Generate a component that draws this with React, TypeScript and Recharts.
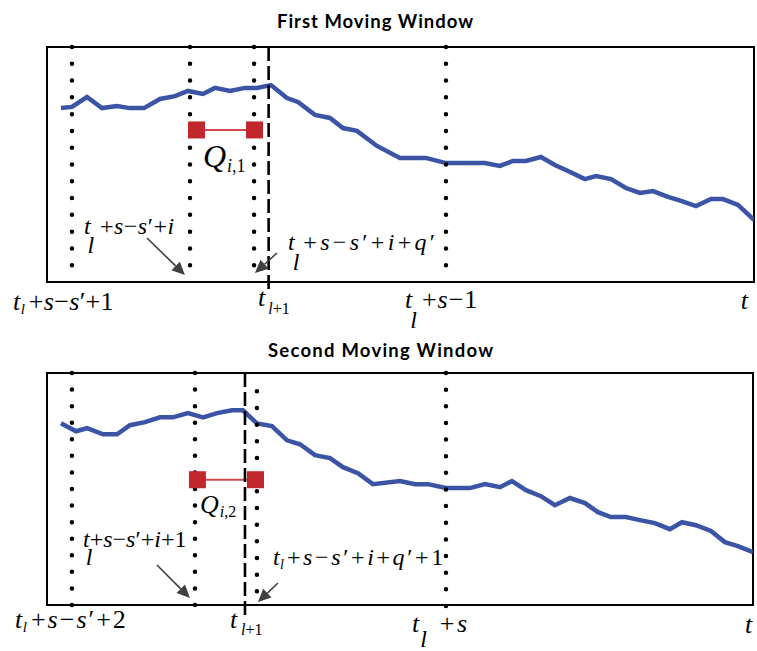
import React from "react"
import { ComposedChart, Line, XAxis, YAxis, ReferenceLine, ReferenceArea, ReferenceDot } from "recharts"

// first moving window: time index and level of the series
const firstTime = [0.97, 1.73, 2.77, 3.81, 4.85, 5.75, 6.72, 7.83, 8.87, 9.77, 10.81, 11.64, 12.68, 13.72, 14.55, 15.52, 16.63, 17.39, 18.57, 19.61, 20.51, 21.48, 22.87, 24.46, 26.26, 27.65, 30.35, 31.39, 32.29, 33.19, 34.23, 35.2, 36.11, 37.28, 38.05, 39.09, 40.12, 41.1, 42.0, 43.04, 43.94, 44.98, 46.02, 46.85, 47.89, 49.0]
const firstLevel = [74.0, 74.5, 78.7, 74.0, 74.9, 74.0, 74.0, 77.9, 79.1, 81.3, 80.0, 82.6, 81.3, 82.6, 82.6, 83.8, 78.3, 76.6, 71.1, 69.8, 65.5, 64.3, 57.9, 52.8, 52.8, 50.6, 50.6, 49.4, 51.5, 51.5, 53.2, 49.8, 47.2, 43.8, 45.1, 43.8, 40.0, 37.9, 38.7, 36.2, 34.5, 32.3, 35.3, 35.3, 32.8, 26.4]

// second moving window
const secondTime = [0.97, 2.01, 2.78, 3.89, 4.86, 5.76, 6.8, 7.84, 8.74, 9.78, 10.83, 11.8, 12.84, 13.6, 14.57, 15.61, 16.66, 17.56, 18.6, 19.64, 20.54, 21.58, 22.62, 24.5, 25.54, 26.44, 27.69, 29.35, 30.4, 31.44, 32.27, 33.24, 34.28, 35.25, 36.29, 37.34, 38.24, 39.14, 40.18, 41.15, 42.19, 43.23, 44.07, 45.04, 46.08, 47.05, 47.95, 49.0]
const secondLevel = [78.3, 74.9, 76.2, 73.6, 73.6, 77.5, 78.8, 80.9, 80.9, 82.7, 80.9, 82.7, 83.9, 83.9, 78.3, 77.1, 71.0, 69.3, 64.6, 63.3, 59.4, 56.8, 52.1, 53.4, 52.1, 52.1, 50.4, 50.4, 52.1, 50.8, 53.4, 49.5, 46.9, 43.0, 46.1, 43.9, 40.0, 37.9, 37.9, 36.6, 35.3, 32.7, 35.7, 34.4, 31.9, 27.1, 25.4, 22.8]

// window boundaries (dotted) and t_{l+1} (dashed)
const firstDotted = [1.73, 9.91, 14.35, 27.65]
const firstDottedTop = [100, 100, 100, 100]
const firstDottedBottom = [0, 0, 0, 0]
const firstDashed = 15.36
const firstDashedBottom = -4.7

const secondDotted = [1.73, 10.27, 14.57, 27.69]
const secondDottedTop = [100, 100, 92.1, 100]
const secondDottedBottom = [0, 0, -1.3, -0.4]
const secondDashed = 13.74
const secondDashedBottom = -6.5

// Q segments
const firstQTime = [10.36, 14.38]
const firstQLevel = 64.7
const secondQTime = [10.44, 14.47]
const secondQLevel = 54.0

const SERIF = "'Liberation Serif', 'Times New Roman', serif"
const BLUE = "#3b54a5"
const RED = "#c1272d"

type Part = { s: string; it: boolean; size?: number; dx?: number; dy?: number; ls?: number }
type Opt = { size?: number; dx?: number; dy?: number; ls?: number }

// letters italic, digits and operators upright
function mp(str: string, o: Opt = {}): Part[] {
	const out: Part[] = []
	for (const ch of str) {
		const it = /[a-zA-Z]/.test(ch)
		const last = out[out.length - 1]
		if (last && last.it === it) last.s += ch
		else
			out.push({
				s: ch,
				it,
				size: o.size,
				dy: o.dy,
				ls: o.ls,
				dx: out.length === 0 ? o.dx : undefined,
			})
	}
	return out
}

function Tex({ cx, cy, size, parts }: { cx: number; cy: number; size: number; parts: Part[] }) {
	let cur = 0
	return (
		<text x={cx} y={cy} fontFamily={SERIF} fontSize={size} fill="#000">
			{parts.map((p, i) => {
				const off = p.dy ?? 0
				const dy = off - cur
				cur = off
				return (
					<tspan
						key={i}
						dx={p.dx ?? 0}
						dy={dy}
						fontFamily={SERIF}
						fontStyle={p.it ? "italic" : "normal"}
						fontSize={p.size ?? size}
						letterSpacing={p.ls ?? 0}
					>
						{p.s}
					</tspan>
				)
			})}
		</text>
	)
}

type Note = { x: number; y: number; size: number; parts: Part[] }
type Arrow = { from: [number, number]; to: [number, number] }

const firstNotes: Note[] = [
	{ x: -2.36, y: -11.91, size: 26, parts: [...mp("t"), ...mp("l", { size: 15, dy: 4, dx: 0.5 }), ...mp("+s−s′+1", { dx: 4, ls: 0.3 })] },
	{ x: 14.62, y: -10.21, size: 26, parts: [...mp("t"), ...mp("l+1", { size: 16, dy: 8, dx: 3 })] },
	{ x: 24.81, y: -11.06, size: 26, parts: [...mp("t"), ...mp("l", { size: 24, dy: 20, dx: -2 }), ...mp("+s−1", { dx: 5, ls: 1 })] },
	{ x: 48.09, y: -11.49, size: 26, parts: mp("t") },
	{ x: 2.56, y: 20.43, size: 24, parts: [...mp("t"), ...mp("l", { dy: 19, dx: -3 }), ...mp("+s−s′+i", { dx: 5.6, ls: 0.5 })] },
	{ x: 16.7, y: 13.62, size: 24, parts: [...mp("t"), ...mp("l", { dy: 20, dx: -2 }), ...mp("+s−s′+i+q′", { dx: 4, ls: 3.3 })] },
	{ x: 10.81, y: 48.94, size: 32, parts: [...mp("Q"), ...mp("i,1", { size: 18, dy: 5, dx: 1 })] },
]

const secondNotes: Note[] = [
	{ x: -2.22, y: -9.9, size: 26, parts: [...mp("t"), ...mp("l", { size: 15, dy: 4, dx: 0.5 }), ...mp("+s−s′+2", { dx: 4, ls: 2 })] },
	{ x: 12.7, y: -9.9, size: 26, parts: [...mp("t"), ...mp("l+1", { size: 16, dy: 7, dx: 3.8 })] },
	{ x: 25.33, y: -11.62, size: 26, parts: [...mp("t"), ...mp("l", { size: 24, dy: 15, dx: 1 }), ...mp("+s", { dx: 13, ls: 2.5 })] },
	{ x: 48.44, y: -12.05, size: 26, parts: mp("t") },
	{ x: 2.5, y: 24.97, size: 24, parts: [...mp("t"), ...mp("l", { dy: 18, dx: -4 }), ...mp("+s−s′+i+1", { dx: -2.7 })] },
	{ x: 15.68, y: 17.22, size: 24, parts: [...mp("t"), ...mp("l", { size: 14, dy: 4, dx: 0.5 }), ...mp("+s−s′+i+q′+1", { dx: 3, ls: 2.6 })] },
	{ x: 10.62, y: 39.6, size: 26, parts: [...mp("Q"), ...mp("i,2", { size: 16, dy: 4, dx: 1 })] },
]

const firstArrows: Arrow[] = [
	{ from: [6.93, 18.72], to: [9.56, 2.98] },
	{ from: [15.94, 12.34], to: [14.41, 3.83] },
]
const secondArrows: Arrow[] = [
	{ from: [7.63, 17.22], to: [9.92, 3.01] },
	{ from: [16.03, 9.47], to: [14.64, 1.29] },
]

const dottedShape = (p: any) => {
	const len = Math.abs(p.y2 - p.y1)
	const n = Math.max(1, Math.round(len / 16.7))
	return (
		<line x1={p.x1} y1={p.y1} x2={p.x2} y2={p.y2} stroke="#000" strokeWidth={4.5} strokeLinecap="round" strokeDasharray={`0 ${len / n}`} />
	)
}

const dashedShape = (p: any) => (
	<line x1={p.x1} y1={p.y1} x2={p.x2} y2={p.y2} stroke="#000" strokeWidth={2.6} strokeDasharray="14 5" />
)

const arrowShape = (p: any) => {
	const dx = p.x2 - p.x1
	const dy = p.y2 - p.y1
	const len = Math.sqrt(dx * dx + dy * dy)
	const ux = dx / len
	const uy = dy / len
	const head = 13
	const half = 6
	const bx = p.x2 - ux * head
	const by = p.y2 - uy * head
	return (
		<g>
			<line x1={p.x1} y1={p.y1} x2={bx} y2={by} stroke="#404040" strokeWidth={1.6} />
			<polygon
				points={`${p.x2},${p.y2} ${bx - uy * half},${by + ux * half} ${bx + uy * half},${by - ux * half}`}
				fill="#404040"
			/>
		</g>
	)
}

function Panel({
	width,
	height,
	margin,
	time,
	level,
	dotted,
	dottedTop,
	dottedBottom,
	dashed,
	dashedBottom,
	qTime,
	qLevel,
	notes,
	arrows,
}: {
	width: number
	height: number
	margin: { top: number; right: number; bottom: number; left: number }
	time: number[]
	level: number[]
	dotted: number[]
	dottedTop: number[]
	dottedBottom: number[]
	dashed: number
	dashedBottom: number
	qTime: number[]
	qLevel: number
	notes: Note[]
	arrows: Arrow[]
}) {
	const data = time.map((t, i) => ({ t, v: level[i] }))
	const qData = qTime.map((t) => ({ t, v: qLevel }))
	return (
		<ComposedChart width={width} height={height} margin={margin} style={{ overflow: "visible" }}>
			<XAxis dataKey="t" type="number" domain={[0, 49]} allowDataOverflow hide />
			<YAxis type="number" domain={[0, 100]} allowDataOverflow hide />
			<ReferenceArea x1={0} x2={49} y1={0} y2={100} fill="none" fillOpacity={0} stroke="#000" strokeWidth={2} ifOverflow="visible" />
			<Line data={data} dataKey="v" type="linear" stroke={BLUE} strokeWidth={4.5} dot={false} isAnimationActive={false} />
			<Line
				data={qData}
				dataKey="v"
				type="linear"
				stroke="#cf4a4e"
				strokeWidth={2}
				isAnimationActive={false}
				dot={(p: any) => <rect key={p.index} x={p.cx - 8.5} y={p.cy - 8.5} width={17} height={17} fill={RED} />}
			/>
			{dotted.map((x, i) => (
				<ReferenceLine
					key={`d${i}`}
					segment={[
						{ x, y: dottedTop[i] },
						{ x, y: dottedBottom[i] },
					]}
					ifOverflow="visible"
					shape={dottedShape}
				/>
			))}
			<ReferenceLine
				segment={[
					{ x: dashed, y: 100 },
					{ x: dashed, y: dashedBottom },
				]}
				ifOverflow="visible"
				shape={dashedShape}
			/>
			{arrows.map((a, i) => (
				<ReferenceLine
					key={`a${i}`}
					segment={[
						{ x: a.from[0], y: a.from[1] },
						{ x: a.to[0], y: a.to[1] },
					]}
					ifOverflow="visible"
					shape={arrowShape}
				/>
			))}
			{notes.map((n, i) => (
				<ReferenceDot
					key={`n${i}`}
					x={n.x}
					y={n.y}
					r={0}
					ifOverflow="visible"
					shape={(p: any) => <Tex cx={p.cx} cy={p.cy} size={n.size} parts={n.parts} />}
				/>
			))}
		</ComposedChart>
	)
}

const titleStyle = { fontFamily: "Lato, 'Open Sans', sans-serif", fontWeight: 700, fontSize: 18.5 }

export default function App() {
	return (
		<div style={{ position: "absolute", left: 0, top: 0, width: 757, height: 651, background: "#fff" }}>
			<div style={{ position: "absolute", left: 0, top: 0 }}>
				<Panel
					width={757}
					height={330}
					margin={{ top: 47, right: 3, bottom: 48, left: 47 }}
					time={firstTime}
					level={firstLevel}
					dotted={firstDotted}
					dottedTop={firstDottedTop}
					dottedBottom={firstDottedBottom}
					dashed={firstDashed}
					dashedBottom={firstDashedBottom}
					qTime={firstQTime}
					qLevel={firstQLevel}
					notes={firstNotes}
					arrows={firstArrows}
				/>
			</div>
			<div style={{ position: "absolute", left: 0, top: 330 }}>
				<Panel
					width={757}
					height={321}
					margin={{ top: 43, right: 4, bottom: 46, left: 47 }}
					time={secondTime}
					level={secondLevel}
					dotted={secondDotted}
					dottedTop={secondDottedTop}
					dottedBottom={secondDottedBottom}
					dashed={secondDashed}
					dashedBottom={secondDashedBottom}
					qTime={secondQTime}
					qLevel={secondQLevel}
					notes={secondNotes}
					arrows={secondArrows}
				/>
			</div>
			<svg width={757} height={651} style={{ position: "absolute", left: 0, top: 0, pointerEvents: "none" }}>
				<text x={277} y={28} textLength={196} lengthAdjust="spacing" style={titleStyle} fill="#000">
					First Moving Window
				</text>
				<text x={268} y={357} textLength={225} lengthAdjust="spacing" style={titleStyle} fill="#000">
					Second Moving Window
				</text>
			</svg>
		</div>
	)
}
